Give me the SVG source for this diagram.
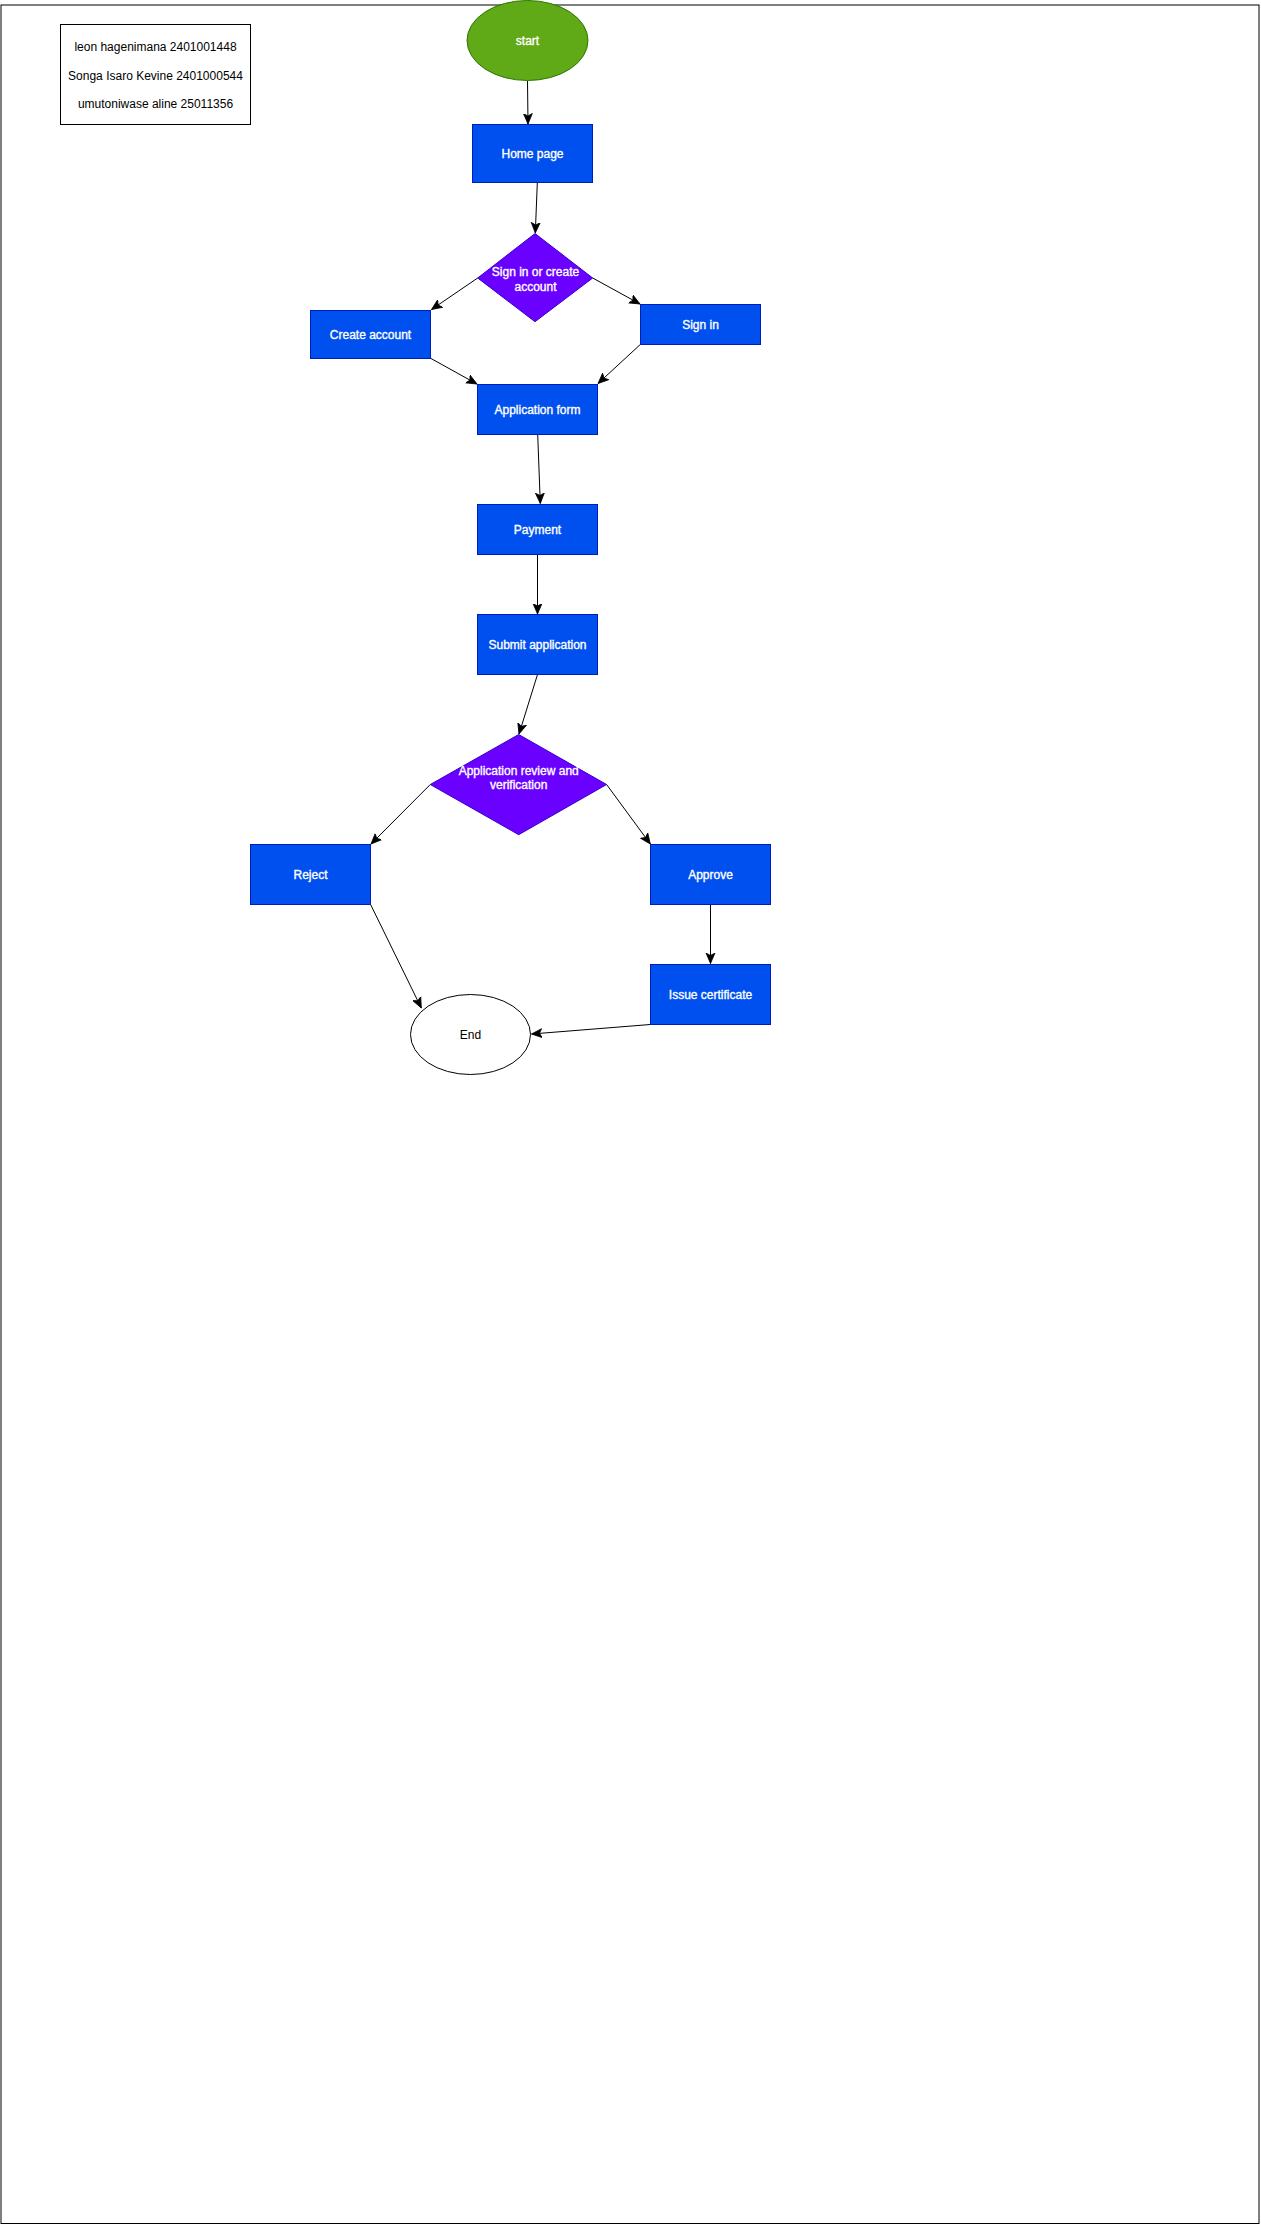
<svg xmlns="http://www.w3.org/2000/svg" width="1261" height="2225" viewBox="0 0 1261 2225">
  <style>
    .t { font-family: "Liberation Sans", Arial, Helvetica, sans-serif; font-size: 12px; text-anchor: middle; }
    .w { fill: #ffffff; stroke: #ffffff; stroke-width: 0.35; }
    .k { fill: #000000; }
    .proc { fill: #0050ef; stroke: #001DBC; stroke-width: 1; }
    .dec { fill: #6a00ff; stroke: #3700CC; stroke-width: 1; }
    .edge { fill: none; stroke: #000000; stroke-width: 1; marker-end: url(#arrow); }
  </style>
  <defs>
    <marker id="arrow" markerUnits="userSpaceOnUse" markerWidth="12" markerHeight="12" viewBox="0 0 12 12" refX="10.5" refY="6" orient="auto">
      <path d="M0,1.5 L10.5,6 L0,10.5 L2.5,6 Z" fill="#000000" stroke="#000000" stroke-width="0.8"/>
    </marker>
  </defs>
  <rect width="1261" height="2225" fill="#ffffff"/>
  <rect id="frame" x="1" y="5" width="1258" height="2218.5" fill="none" stroke="#000000" stroke-width="1"/>

  <g id="connectors">
    <line class="edge" x1="527.5" y1="81" x2="528" y2="124"/>
    <line class="edge" x1="537.3" y1="183" x2="535.3" y2="233"/>
    <line class="edge" x1="477.7" y1="278" x2="431.5" y2="309.5"/>
    <line class="edge" x1="592.7" y1="278" x2="640" y2="304"/>
    <line class="edge" x1="431" y1="358.5" x2="477" y2="384"/>
    <line class="edge" x1="640.3" y1="344.5" x2="598" y2="383.5"/>
    <line class="edge" x1="537.7" y1="434.5" x2="540.3" y2="503.5"/>
    <line class="edge" x1="537.5" y1="554.5" x2="537.5" y2="614"/>
    <line class="edge" x1="537.5" y1="674.5" x2="519" y2="734"/>
    <line class="edge" x1="430.3" y1="784.5" x2="371" y2="844"/>
    <line class="edge" x1="606.6" y1="784.5" x2="650.3" y2="844"/>
    <line class="edge" x1="370.6" y1="904.5" x2="421.3" y2="1008"/>
    <line class="edge" x1="710.5" y1="904.5" x2="710.5" y2="963.5"/>
    <line class="edge" x1="650.3" y1="1024.5" x2="531.5" y2="1034"/>
  </g>

  <g id="names">
    <rect x="60.5" y="24.5" width="190" height="100" fill="#ffffff" stroke="#000000" stroke-width="1"/>
    <text class="t k" x="155.5" y="51">leon hagenimana 2401001448</text>
    <text class="t k" x="155.5" y="79.5">Songa Isaro Kevine 2401000544</text>
    <text class="t k" x="155.5" y="108">umutoniwase aline 25011356</text>
  </g>

  <g id="start">
    <ellipse cx="527.5" cy="40.5" rx="60.5" ry="40" fill="#60a917" stroke="#2D7600" stroke-width="1"/>
    <text class="t w" x="527.5" y="45">start</text>
  </g>

  <g id="home">
    <rect class="proc" x="472.5" y="124.5" width="120" height="58"/>
    <text class="t w" x="532.5" y="158">Home page</text>
  </g>

  <g id="signin-or-create">
    <polygon class="dec" points="535,233.5 592.7,278 535,321.7 477.7,278"/>
    <text class="t w" x="535.5" y="276">Sign in or create</text>
    <text class="t w" x="535.5" y="291">account</text>
  </g>

  <g id="create-account">
    <rect class="proc" x="310.5" y="310.5" width="120" height="48"/>
    <text class="t w" x="370.5" y="339">Create account</text>
  </g>

  <g id="sign-in">
    <rect class="proc" x="640.5" y="304.5" width="120" height="40"/>
    <text class="t w" x="700.5" y="329">Sign in</text>
  </g>

  <g id="application-form">
    <rect class="proc" x="477.5" y="384.5" width="120" height="50"/>
    <text class="t w" x="537.5" y="414">Application form</text>
  </g>

  <g id="payment">
    <rect class="proc" x="477.5" y="504.5" width="120" height="50"/>
    <text class="t w" x="537.5" y="534">Payment</text>
  </g>

  <g id="submit">
    <rect class="proc" x="477.5" y="614.5" width="120" height="60"/>
    <text class="t w" x="537.5" y="649">Submit application</text>
  </g>

  <g id="review">
    <polygon class="dec" points="518.7,734.5 606.6,784.5 518.7,834.7 430.3,784.5"/>
    <text class="t w" x="518.7" y="775">Application review and</text>
    <text class="t w" x="518.7" y="789">verification</text>
  </g>

  <g id="reject">
    <rect class="proc" x="250.5" y="844.5" width="120" height="60"/>
    <text class="t w" x="310.5" y="879">Reject</text>
  </g>

  <g id="approve">
    <rect class="proc" x="650.5" y="844.5" width="120" height="60"/>
    <text class="t w" x="710.5" y="879">Approve</text>
  </g>

  <g id="issue">
    <rect class="proc" x="650.5" y="964.5" width="120" height="60"/>
    <text class="t w" x="710.5" y="999">Issue certificate</text>
  </g>

  <g id="end">
    <ellipse cx="470.5" cy="1034.5" rx="60" ry="40" fill="#ffffff" stroke="#000000" stroke-width="1"/>
    <text class="t k" x="470.5" y="1039">End</text>
  </g>
</svg>
